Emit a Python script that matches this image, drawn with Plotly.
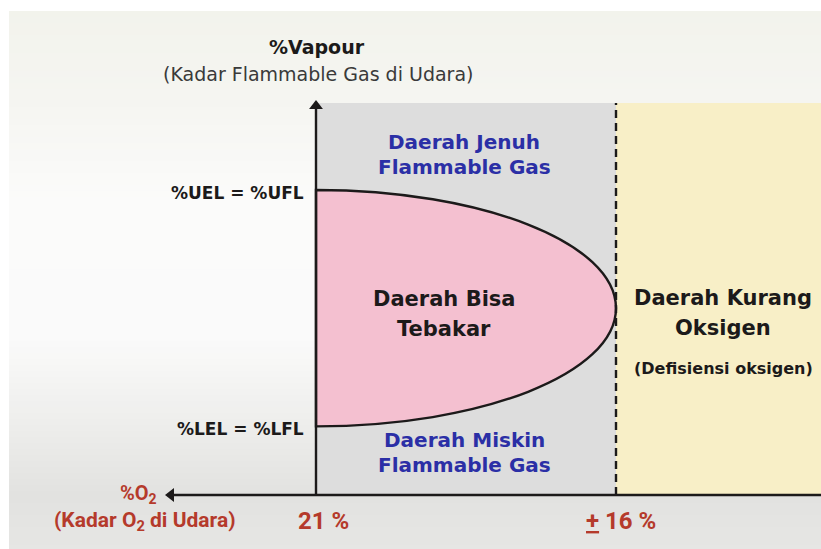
import plotly.graph_objects as go

# ---- data ----
o2_air = 21.0          # % O2 in normal air (left edge of flammable envelope)
o2_limit = 16.0        # % O2 below which combustion stops
vap_uel = 10.0         # upper explosive limit (relative vapour level)
vap_lel = 2.25         # lower explosive limit (relative vapour level)
vap_top = 12.85        # top of the diagram box
x_ticks = [21.0, 16.0]
x_tick_labels = ["21 %", "<u>+</u> 16 %"]
y_levels = [vap_uel, vap_lel]
y_level_labels = ["%UEL = %UFL", "%LEL = %LFL"]

# axis ranges (x drawn reversed: O2 decreases to the right)
W, H = 821, 549
X_PX_ORIGIN, X_PX_PER = 316, 60.0     # 21 % sits at px 316, 60 px per % O2
Y_PX_ORIGIN, Y_PX_PER = 495, 30.5     # vapour 0 sits at px 495
x_range = [o2_air + X_PX_ORIGIN / X_PX_PER, o2_air - (W - X_PX_ORIGIN) / X_PX_PER]
y_range = [-(H - Y_PX_ORIGIN) / Y_PX_PER, Y_PX_ORIGIN / Y_PX_PER]


def px(xp, yp):
    """screen position -> data position (for placing text)"""
    return o2_air - (xp - X_PX_ORIGIN) / X_PX_PER, (Y_PX_ORIGIN - yp) / Y_PX_PER


FONT = "DejaVu Sans"
FONT2 = "Roboto"
BLUE = "#2b2fa6"
RED = "#b53a2b"
DARK = "#1c1a1a"

fig = go.Figure()
shapes = []

# ---- background gradient (paper) ----
stops = [(11, "#f2f3ec"), (100, "#f5f5f1"), (200, "#fbfbfa"), (340, "#fafafa"),
         (420, "#eeeeec"), (495, "#e2e2e0"), (549, "#e6e6e4")]


def hex2rgb(c):
    return [int(c[i:i + 2], 16) for i in (1, 3, 5)]


def color_at(yp):
    for (y0, c0), (y1, c1) in zip(stops[:-1], stops[1:]):
        if y0 <= yp <= y1:
            t = (yp - y0) / (y1 - y0)
            a, b = hex2rgb(c0), hex2rgb(c1)
            return "#" + "".join(f"{round(a[k] + (b[k] - a[k]) * t):02x}" for k in range(3))
    return stops[-1][1]


step = 6
for yp in range(11, H, step):
    y_bottom = 0 if yp + step >= H else 1 - (yp + step) / H
    shapes.append(dict(type="rect", xref="paper", yref="paper", x0=9 / W, x1=1.01,
                       y0=y_bottom - (0.01 if y_bottom == 0 else 0), y1=1 - yp / H,
                       fillcolor=color_at(yp + step / 2), line_width=0, layer="below"))

# gray region (saturated / lean zones)
shapes.append(dict(type="rect", xref="x", yref="y", x0=o2_air, x1=o2_limit, y0=0, y1=vap_top,
                   fillcolor="#dddddd", line_width=0, layer="below"))
# yellow region (oxygen deficient)
shapes.append(dict(type="rect", xref="x", yref="y", x0=o2_limit, x1=x_range[1], y0=0, y1=vap_top,
                   fillcolor="#f8efc7", line_width=0, layer="below"))

# flammable envelope: half ellipse from 21% to 16% between LEL and UEL (cubic Bezier)
k = 0.5523
yc = (vap_uel + vap_lel) / 2
b = (vap_uel - vap_lel) / 2
a = o2_air - o2_limit
path = (f"M {o2_air},{vap_uel} "
        f"C {o2_air - k * a},{vap_uel} {o2_limit},{yc + k * b} {o2_limit},{yc} "
        f"C {o2_limit},{yc - k * b} {o2_air - k * a},{vap_lel} {o2_air},{vap_lel} Z")
shapes.append(dict(type="path", xref="x", yref="y", path=path,
                   fillcolor="#f4c0d0", line=dict(color=DARK, width=2.4), layer="below"))

# dashed boundary at 16% O2
shapes.append(dict(type="line", xref="x", yref="y", x0=o2_limit, x1=o2_limit, y0=0, y1=vap_top,
                   line=dict(color=DARK, width=2.4, dash="8px,5px")))

# axes lines
y_arrow_x, y_arrow_y = px(316, 106)
x_arrow_x, x_arrow_y = px(171, 495)
shapes.append(dict(type="line", xref="x", yref="y", x0=o2_air, x1=o2_air, y0=0, y1=y_arrow_y,
                   line=dict(color=DARK, width=2.4)))
shapes.append(dict(type="line", xref="x", yref="y", x0=x_arrow_x, x1=x_range[1], y0=0, y1=0,
                   line=dict(color=DARK, width=2.6)))

# arrow heads
fig.add_trace(go.Scatter(x=[o2_air], y=[y_arrow_y], mode="markers",
                         marker=dict(symbol="triangle-up", size=12, color=DARK),
                         showlegend=False, hoverinfo="skip"))
fig.add_trace(go.Scatter(x=[x_arrow_x], y=[0], mode="markers",
                         marker=dict(symbol="triangle-left", size=12, color=DARK),
                         showlegend=False, hoverinfo="skip"))

annotations = []


def txt(xp, yp, s, size, color, family=FONT, bold=True, xanchor="center"):
    x, y = px(xp, yp)
    annotations.append(dict(x=x, y=y, xref="x", yref="y", text=f"<b>{s}</b>" if bold else s,
                            showarrow=False, xanchor=xanchor, yanchor="middle",
                            font=dict(family=family, size=size, color=color)))


# axis titles
txt(317, 47, "%Vapour", 19, DARK)
txt(318, 74, "(Kadar Flammable Gas di Udara)", 19, "#3a3a3a", bold=False)
txt(138, 494, "%O<sub>2</sub>", 20, RED, family=FONT2)
txt(145, 521, "(Kadar O<sub>2</sub> di Udara)", 21, RED, family=FONT2)

# tick labels
tick_px = [323, 621]
for xp, lab in zip(tick_px, x_tick_labels):
    txt(xp, 521, lab, 24, RED, family=FONT2)
for yv, lab in zip(y_levels, y_level_labels):
    yp = Y_PX_ORIGIN - yv * Y_PX_PER + 3
    txt(306, yp, lab, 17, DARK, xanchor="right")

# region labels (one annotation per line)
txt(464, 142, "Daerah Jenuh", 20, BLUE)
txt(464, 167, "Flammable Gas", 20, BLUE)
txt(464, 440, "Daerah Miskin", 20, BLUE)
txt(464, 465, "Flammable Gas", 20, BLUE)
txt(444, 299, "Daerah Bisa", 21, DARK)
txt(444, 329, "Tebakar", 21, DARK)
txt(723, 298, "Daerah Kurang", 21, DARK)
txt(723, 328, "Oksigen", 21, DARK)
txt(723, 368, "(Defisiensi oksigen)", 16, DARK)

fig.update_layout(
    width=W, height=H,
    margin=dict(l=0, r=0, t=0, b=0),
    paper_bgcolor="white", plot_bgcolor="rgba(0,0,0,0)",
    xaxis=dict(range=x_range, visible=False, fixedrange=True),
    yaxis=dict(range=y_range, visible=False, fixedrange=True),
    shapes=shapes, annotations=annotations, showlegend=False,
)
fig.write_html("out.html", config={"displayModeBar": False},
               post_script="document.body.style.margin='0px';document.body.style.overflow='hidden';")
